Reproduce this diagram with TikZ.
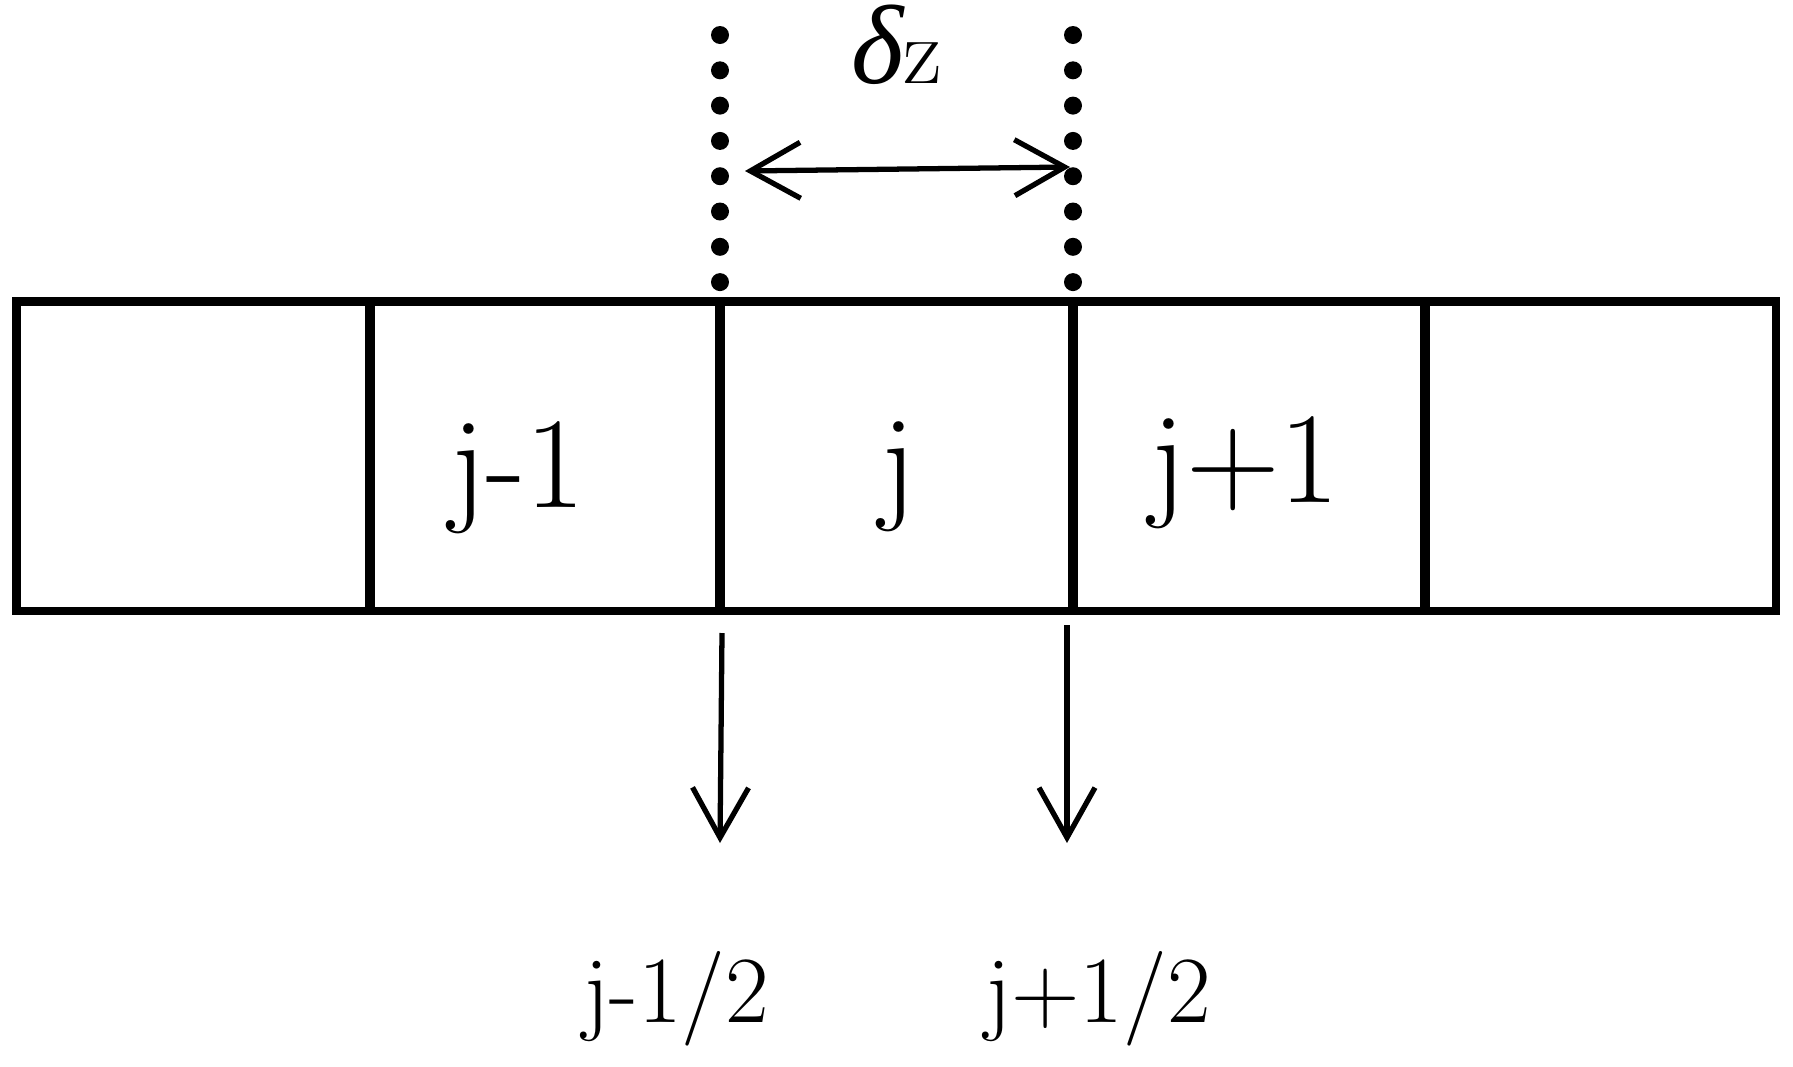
\documentclass[tikz,border=0pt]{standalone}
\usepackage{fontspec}
\newfontfamily\grkfont{Liberation Serif}
\usetikzlibrary{arrows.meta}
\begin{document}
\begin{tikzpicture}[x=0.02cm,y=-0.02cm,
  cell/.style={draw, line width=5.1pt, minimum height=6.2cm, inner sep=0pt, outer sep=0pt},
  biglabel/.style={anchor=base, inner sep=0pt, font=\fontsize{74}{80}\selectfont},
  smalllabel/.style={anchor=base, inner sep=0pt, font=\fontsize{54}{60}\selectfont},
  barb/.tip={Straight Barb[length=1.0cm,width=1.12cm]},
  arr/.style={line width=3pt, line join=round, -barb},
  dblarr/.style={line width=3pt, line join=round, barb-barb},
  guidedot/.style={fill, circle, inner sep=0pt, minimum size=0.36cm}]
\useasboundingbox (0,0) rectangle (1793,1066);

% cells
\node[cell, minimum width=7.08cm] (c1) at (193,456) {};
\node[cell, minimum width=7.00cm] (c2) at (545,456) {};
\node[cell, minimum width=7.06cm] (c3) at (896.5,456) {};
\node[cell, minimum width=7.04cm] (c4) at (1249,456) {};
\node[cell, minimum width=7.02cm] (c5) at (1600.5,456) {};

% cell labels
\node[biglabel] (l2) at (518,507) {j-1};
\node[biglabel] (l3) at (898,505) {j};
\node[biglabel] (l4) at (1245,502) {j+1};

% dotted guide lines
\foreach \k in {0,...,7} {
  \node[guidedot] (dl\k) at (720,{35+35.3*\k}) {};
  \node[guidedot] (dr\k) at (1073,{35+35.3*\k}) {};
}

% delta z
\node[smalllabel] (dz) at (897,83) {\smash{\grkfont\itshape\fontsize{64}{70}\selectfont δ}z};
\coordinate (dzl) at (745,171);
\coordinate (dzr) at (1070,167);
\draw[dblarr] (dzl) -- (dzr);

% face arrows
\coordinate (a1s) at (722,633);
\coordinate (a1e) at (720,843);
\coordinate (a2s) at (1067,625);
\coordinate (a2e) at (1067,843);
\draw[arr] (a1s) -- (a1e);
\draw[arr] (a2s) -- (a2e);

% face labels
\node[smalllabel] (f1) at (676,1022) {j-1/2};
\node[smalllabel] (f2) at (1098,1022) {j+1/2};
\end{tikzpicture}
\end{document}
